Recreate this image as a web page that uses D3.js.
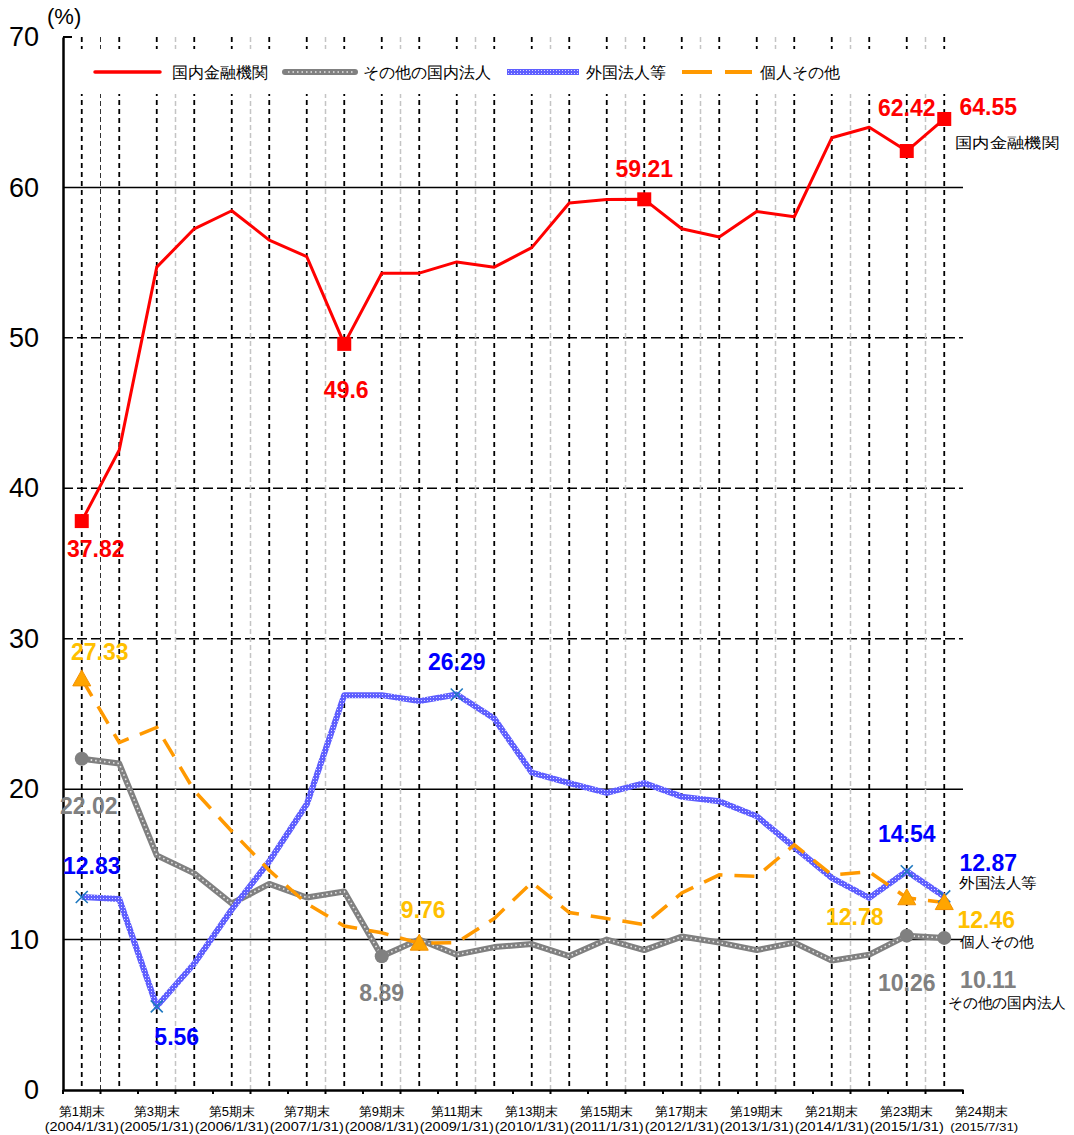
<!DOCTYPE html>
<html lang="ja">
<head>
<meta charset="UTF-8">
<title>所有者別持株比率</title>
<script src="https://d3js.org/d3.v7.min.js"></script>
<style>
  body { margin: 0; background: #fff; }
  text { font-family: "Liberation Sans", Arial, sans-serif; }
  .jp { font-family: "Noto Sans CJK JP", sans-serif; }
</style>
</head>
<body>
<script>
// periods (half-year) and their dates
const periods = d3.range(1, 25).map(n => '第' + n + '期末');
const dates = ['2004/1/31', '2004/7/31', '2005/1/31', '2005/7/31', '2006/1/31', '2006/7/31',
  '2007/1/31', '2007/7/31', '2008/1/31', '2008/7/31', '2009/1/31', '2009/7/31',
  '2010/1/31', '2010/7/31', '2011/1/31', '2011/7/31', '2012/1/31', '2012/7/31',
  '2013/1/31', '2013/7/31', '2014/1/31', '2014/7/31', '2015/1/31', '2015/7/31'];

// series values (%)
const finance  = [37.82, 42.55, 54.7, 57.25, 58.45, 56.5, 55.4, 49.6, 54.3, 54.3, 55.05, 54.7,
                  56.0, 58.97, 59.2, 59.21, 57.25, 56.7, 58.4, 58.05, 63.3, 64.0, 62.42, 64.55];
const otherCorp = [22.02, 21.7, 15.6, 14.4, 12.4, 13.7, 12.8, 13.2, 8.89, 10.0, 9.0, 9.5,
                  9.7, 8.9, 10.0, 9.3, 10.2, 9.8, 9.3, 9.8, 8.6, 9.0, 10.26, 10.11];
const foreign  = [12.83, 12.7, 5.56, 8.4, 12.0, 15.2, 19.0, 26.25, 26.25, 25.85, 26.29, 24.7,
                  21.1, 20.4, 19.75, 20.4, 19.5, 19.2, 18.2, 16.15, 14.1, 12.77, 14.54, 12.87];
const individual = [27.33, 23.1, 24.1, 19.9, 17.2, 14.6, 12.4, 10.9, 10.45, 9.76, 9.8, 11.4,
                  13.8, 11.8, 11.4, 11.0, 13.1, 14.3, 14.2, 16.3, 14.3, 14.5, 12.78, 12.46];

const yTicks = [0, 10, 20, 30, 40, 50, 60, 70];

const W = 1074, H = 1135;
const pLeft = 63, pRight = 963, pTop = 37, pBottom = 1090;

const svg = d3.select('body').append('svg').attr('width', W).attr('height', H);

const x = d3.scaleBand().domain(periods).range([pLeft, pRight]).padding(0);
const cx = i => x(periods[i]) + x.bandwidth() / 2;
const y = d3.scaleLinear().domain([0, 70]).range([pBottom, pTop]);

// hatched stroke for 外国法人等
const defs = svg.append('defs');
const pat = defs.append('pattern').attr('id', 'blueHatch')
  .attr('width', 3).attr('height', 3).attr('patternUnits', 'userSpaceOnUse');
pat.append('rect').attr('width', 3).attr('height', 3).attr('fill', '#5f5fff');
pat.append('rect').attr('x', 1).attr('y', 1).attr('width', 1).attr('height', 1).attr('fill', '#d8d8ff');

// grid: horizontal
const grid = svg.append('g');
grid.selectAll('line.h').data(yTicks.filter(d => d > 0 && d < 70)).join('line')
  .attr('x1', pLeft).attr('x2', pRight)
  .attr('y1', d => y(d)).attr('y2', d => y(d))
  .attr('stroke', '#000').attr('stroke-width', 1.5)
  .attr('stroke-dasharray', d => (d >= 30 && d <= 50) ? '10,4' : null);

// grid: grey dashed at odd boundaries, black dashed at each period
const bounds = d3.range(1, 24, 2);
grid.selectAll('line.g').data(bounds).join('line')
  .attr('x1', k => x(periods[k])).attr('x2', k => x(periods[k]))
  .attr('y1', pTop).attr('y2', pBottom)
  .attr('stroke', k => k === 1 ? '#333' : '#c4c4c4')
  .attr('stroke-width', k => k === 1 ? 1 : 1.5)
  .attr('stroke-dasharray', '5,3');
grid.selectAll('line.v').data(d3.range(24)).join('line')
  .attr('x1', i => cx(i)).attr('x2', i => cx(i))
  .attr('y1', pTop).attr('y2', pBottom)
  .attr('stroke', '#000').attr('stroke-width', 1.8)
  .attr('stroke-dasharray', '5,4');

// legend box (white background hides the grid)
svg.append('rect').attr('x', pLeft + 2).attr('y', 49).attr('width', pRight - pLeft - 4).attr('height', 45).attr('fill', '#fff');

// axes
const xAxis = d3.axisBottom(x).tickValues([]).tickSizeOuter(0);
svg.append('g').attr('transform', `translate(0,${pBottom})`).call(xAxis)
  .call(g => g.select('.domain').attr('stroke-width', 2.5));
svg.append('g').selectAll('line').data(periods.concat(['end'])).join('line')
  .attr('x1', (d, k) => pLeft + k * x.bandwidth()).attr('x2', (d, k) => pLeft + k * x.bandwidth())
  .attr('y1', pBottom).attr('y2', pBottom + 4).attr('stroke', '#000').attr('stroke-width', 2);

const yAxis = d3.axisLeft(y).tickValues(yTicks).tickSize(0).tickPadding(24).tickSizeOuter(0);
svg.append('g').attr('transform', `translate(${pLeft},0)`).call(yAxis)
  .call(g => g.select('.domain').attr('stroke-width', 2.5))
  .call(g => g.selectAll('text').attr('font-size', 27).attr('fill', '#000')
    .attr('font-family', '"Liberation Sans", Arial, sans-serif'));
svg.append('line').attr('x1', pLeft).attr('x2', pLeft + 9).attr('y1', pTop).attr('y2', pTop)
  .attr('stroke', '#000').attr('stroke-width', 2);

svg.append('text').attr('x', 47).attr('y', 24).attr('font-size', 22).text('(%)');

// x labels, odd periods
const xl = svg.append('g').attr('font-size', 13).attr('text-anchor', 'middle').attr('class', 'jp')
  .attr('font-weight', 500);
d3.range(0, 23, 2).forEach(i => {
  xl.append('text').attr('x', cx(i)).attr('y', 1116).text(periods[i]);
  xl.append('text').attr('x', cx(i)).attr('y', 1131).attr('font-size', 12)
    .attr('textLength', 74).attr('lengthAdjust', 'spacingAndGlyphs').text('(' + dates[i] + ')');
});
xl.append('text').attr('x', cx(23) + 37).attr('y', 1116).text(periods[23]);
xl.append('text').attr('x', cx(23) + 40).attr('y', 1131).attr('font-size', 11.5)
  .attr('textLength', 68).attr('lengthAdjust', 'spacingAndGlyphs').text('(' + dates[23] + ')');

// lines
const line = d3.line().x((d, i) => cx(i)).y(d => y(d));

const gOther = svg.append('g');
gOther.append('path').datum(otherCorp).attr('d', line).attr('fill', 'none')
  .attr('stroke', '#808080').attr('stroke-width', 6).attr('stroke-linejoin', 'round');
gOther.append('path').datum(otherCorp).attr('d', line).attr('fill', 'none')
  .attr('stroke', '#e6e6e6').attr('stroke-width', 1.6).attr('stroke-dasharray', '1.5,3');

svg.append('path').datum(foreign).attr('d', line).attr('fill', 'none')
  .attr('stroke', 'url(#blueHatch)').attr('stroke-width', 6).attr('stroke-linejoin', 'round');

svg.append('path').datum(individual).attr('d', line).attr('fill', 'none')
  .attr('stroke', '#ff9900').attr('stroke-width', 3.5).attr('stroke-dasharray', '20,12');

svg.append('path').datum(finance).attr('d', line).attr('fill', 'none')
  .attr('stroke', '#ff0000').attr('stroke-width', 3).attr('stroke-linejoin', 'round');

// markers + value labels
const series = [
  { values: finance, color: '#ff0000', marker: 'square',
    labels: [[0, 14, 28], [7, 2, 46], [15, 0, -31], [22, 0, -43], [23, 44, -12]] },
  { values: otherCorp, color: '#808080', marker: 'circle',
    labels: [[0, 7, 47], [8, 0, 36], [22, 0, 47], [23, 44, 42]] },
  { values: foreign, color: '#0000ff', marker: 'cross',
    labels: [[0, 10, -31], [2, 20, 30], [10, 0, -33], [22, 0, -38], [23, 44, -34]] },
  { values: individual, color: '#ffc000', marker: 'triangle',
    labels: [[0, 18, -27], [9, 4, -33], [22, -52, 19], [23, 42, 17]] }
];

series.forEach(s => {
  const g = svg.append('g');
  s.labels.forEach(([i, dx, dy]) => {
    const px = cx(i), py = y(s.values[i]);
    if (s.marker === 'square') {
      g.append('rect').attr('x', px - 7).attr('y', py - 7).attr('width', 14).attr('height', 14).attr('fill', '#ff0000');
    } else if (s.marker === 'circle') {
      g.append('circle').attr('cx', px).attr('cy', py).attr('r', 7).attr('fill', '#808080');
    } else if (s.marker === 'cross') {
      g.append('path').attr('d', `M${px - 6},${py - 6}L${px + 6},${py + 6}M${px - 6},${py + 6}L${px + 6},${py - 6}`)
        .attr('stroke', '#1e78c0').attr('stroke-width', 1.6);
    } else {
      g.append('path').attr('d', `M${px},${py - 9}L${px + 9},${py + 7}L${px - 9},${py + 7}Z`)
        .attr('fill', '#ffa500').attr('stroke', '#f39000').attr('stroke-width', 1);
    }
    g.append('text').attr('x', px + dx).attr('y', py + dy).attr('dy', '0.36em')
      .attr('text-anchor', 'middle').attr('font-size', 23).attr('font-weight', 'bold')
      .attr('fill', s.color).text(String(s.values[i]));
  });
});

// series names at right end
const names = [['国内金融機関', 955, 143, 104], ['外国法人等', 959, 883, 78],
               ['個人その他', 960, 942, 74], ['その他の国内法人', 948, 1003, 118]];
svg.append('g').attr('class', 'jp').attr('font-size', 15).selectAll('text').data(names).join('text')
  .attr('x', d => d[1]).attr('y', d => d[2]).attr('dy', '0.35em')
  .attr('textLength', d => d[3]).attr('lengthAdjust', 'spacingAndGlyphs')
  .text(d => d[0]);

// legend
const lg = svg.append('g').attr('class', 'jp').attr('font-size', 16);
const ly = 72;
lg.append('line').attr('x1', 95).attr('x2', 160).attr('y1', ly).attr('y2', ly)
  .attr('stroke', '#ff0000').attr('stroke-width', 3.5).attr('stroke-linecap', 'round');
lg.append('text').attr('x', 172).attr('y', ly).attr('dy', '0.35em').text('国内金融機関');
lg.append('line').attr('x1', 285).attr('x2', 355).attr('y1', ly).attr('y2', ly)
  .attr('stroke', '#808080').attr('stroke-width', 6).attr('stroke-linecap', 'round');
lg.append('line').attr('x1', 288).attr('x2', 353).attr('y1', ly).attr('y2', ly)
  .attr('stroke', '#e6e6e6').attr('stroke-width', 1.6).attr('stroke-dasharray', '1.5,3');
lg.append('text').attr('x', 363).attr('y', ly).attr('dy', '0.35em').text('その他の国内法人');
lg.append('line').attr('x1', 507).attr('x2', 579).attr('y1', ly).attr('y2', ly)
  .attr('stroke', 'url(#blueHatch)').attr('stroke-width', 6);
lg.append('text').attr('x', 586).attr('y', ly).attr('dy', '0.35em').text('外国法人等');
lg.append('line').attr('x1', 682).attr('x2', 752).attr('y1', ly).attr('y2', ly)
  .attr('stroke', '#ff9900').attr('stroke-width', 4).attr('stroke-dasharray', '30,13');
lg.append('text').attr('x', 760).attr('y', ly).attr('dy', '0.35em').text('個人その他');
</script>
</body>
</html>
